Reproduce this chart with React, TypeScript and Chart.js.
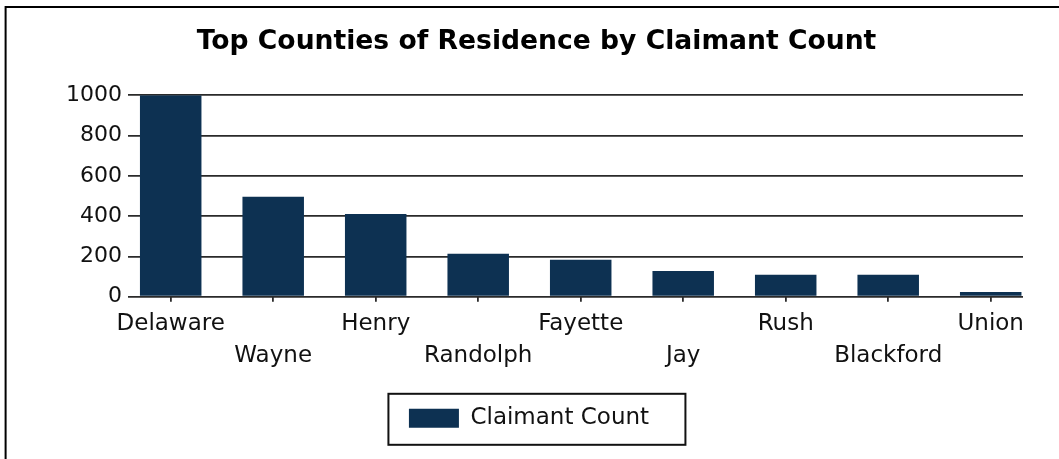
import { useEffect, useRef } from 'react';
import { Chart, registerables } from 'chart.js';

Chart.register(...registerables);

const counties = ['Delaware', 'Wayne', 'Henry', 'Randolph', 'Fayette', 'Jay', 'Rush', 'Blackford', 'Union'];
const claimantCounts = [1000, 496, 410, 213, 184, 128, 109, 109, 23];
const yTickValues = [0, 200, 400, 600, 800, 1000];
const seriesLabel = 'Claimant Count';
const titleText = 'Top Counties of Residence by Claimant Count';

const W = 1073;
const H = 459;
const FAMILY = "'DejaVu Sans', 'Liberation Sans', sans-serif";
const BAR_COLOR = '#0d3152';
const GRID_COLOR = '#2a2a2a';
const TEXT_COLOR = '#111111';

const decorPlugin = {
  id: 'decor',
  afterLayout(chart: any) {
    const lg = chart.legend;
    if (lg) {
      lg.left -= 7.5;
      lg.right -= 7.5;
    }
  },
  beforeDraw(chart: any) {
    const ctx = chart.ctx;
    ctx.save();
    ctx.fillStyle = '#ffffff';
    ctx.fillRect(0, 0, chart.width, chart.height);
    ctx.strokeStyle = '#000000';
    ctx.lineWidth = 2;
    ctx.beginPath();
    ctx.moveTo(5.6, chart.height + 10);
    ctx.lineTo(5.6, 7);
    ctx.lineTo(chart.width + 10, 7);
    ctx.stroke();
    ctx.restore();
  },
  afterDraw(chart: any) {
    const lg = chart.legend;
    if (!lg || !lg.legendHitBoxes || !lg.legendHitBoxes.length) return;
    const hb = lg.legendHitBoxes[0];
    const ctx = chart.ctx;
    const cy = hb.top + hb.height / 2;
    ctx.save();
    ctx.strokeStyle = '#111111';
    ctx.lineWidth = 2;
    ctx.strokeRect(hb.left - 20.5, cy - 24.5, 297, 51);
    ctx.restore();
  },
};

export default function App() {
  const canvasRef = useRef<HTMLCanvasElement | null>(null);

  useEffect(() => {
    const canvas = canvasRef.current;
    if (!canvas) return;
    const chart = new Chart(canvas, {
      type: 'bar',
      data: {
        datasets: [
          {
            label: seriesLabel,
            data: claimantCounts.map((v, i) => ({ x: i, y: v })),
            backgroundColor: BAR_COLOR,
            borderWidth: 0,
            barPercentage: 0.6,
            categoryPercentage: 1,
            xAxisID: 'x',
            yAxisID: 'y',
          },
        ],
      },
      options: {
        responsive: false,
        animation: false,
        events: [],
        layout: { padding: { top: 0, left: 0, right: 0, bottom: 19.2 } },
        scales: {
          x: {
            type: 'linear',
            min: -0.4166,
            max: 8.315,
            offset: false,
            afterBuildTicks: (s: any) => {
              s.ticks = counties.map((_, i) => ({ value: i }));
            },
            grid: {
              display: true,
              drawOnChartArea: false,
              drawTicks: true,
              tickLength: 5,
              color: GRID_COLOR,
              lineWidth: 1.8,
              offset: false,
            },
            border: { display: false },
            ticks: {
              padding: 6,
              autoSkip: false,
              maxRotation: 0,
              minRotation: 0,
              color: TEXT_COLOR,
              font: { family: FAMILY, size: 23, lineHeight: 1.413 },
              callback: (value: any) => {
                const i = Math.round(Number(value));
                const name = counties[i] ?? '';
                return i % 2 === 0 ? [name] : ['', name];
              },
            },
          },
          y: {
            type: 'linear',
            position: 'left',
            min: 0,
            max: 1000,
            afterBuildTicks: (s: any) => {
              s.ticks = yTickValues.map((v) => ({ value: v }));
            },
            afterFit: (s: any) => {
              s.width = 128;
            },
            grid: { color: GRID_COLOR, lineWidth: 1.8, drawTicks: false },
            border: { display: false },
            ticks: {
              padding: 6,
              color: TEXT_COLOR,
              font: { family: FAMILY, size: 22 },
              callback: (v: any) => String(v),
            },
          },
          y2: {
            type: 'linear',
            position: 'right',
            display: true,
            grid: { display: false },
            border: { display: false },
            ticks: { display: false },
            afterFit: (s: any) => {
              s.width = 50;
            },
          },
        },
        plugins: {
          title: {
            display: true,
            text: titleText,
            color: '#000000',
            font: { family: FAMILY, size: 26.6, weight: 'bold' },
            padding: { top: 26.04, bottom: 37.24 },
          },
          legend: {
            display: true,
            position: 'bottom',
            labels: {
              boxWidth: 50,
              boxHeight: 19,
              padding: 28.1,
              color: TEXT_COLOR,
              font: { family: FAMILY, size: 23 },
            },
          },
          tooltip: { enabled: false },
        },
      },
      plugins: [decorPlugin],
    } as any);
    return () => {
      chart.destroy();
    };
  }, []);

  return (
    <div
      style={{
        position: 'fixed',
        left: 0,
        top: 0,
        width: 1059,
        height: H,
        overflow: 'hidden',
        background: '#ffffff',
      }}
    >
      <canvas ref={canvasRef} width={W} height={H} style={{ width: W, height: H, display: 'block' }} />
    </div>
  );
}
